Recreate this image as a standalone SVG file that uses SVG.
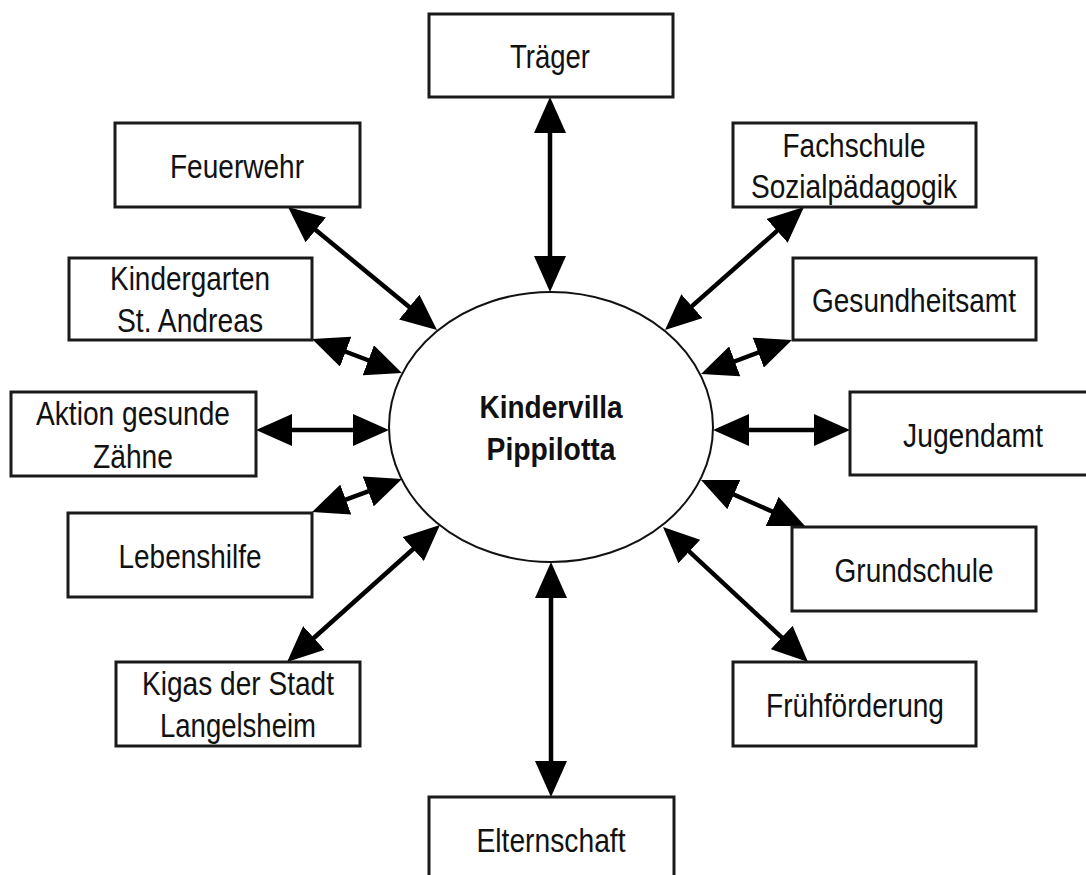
<svg xmlns="http://www.w3.org/2000/svg" width="1086" height="875" viewBox="0 0 1086 875">
<style>
.box{fill:#fff;stroke:#1a1a1a;stroke-width:3}
.lbl{font-family:"Liberation Sans",Arial,sans-serif;font-size:33px;fill:#111;text-anchor:middle}
.ctr{font-family:"Liberation Sans",Arial,sans-serif;font-size:32px;font-weight:bold;fill:#111;text-anchor:middle}
.con{stroke:#000;stroke-width:4.5;fill:none;marker-start:url(#ah);marker-end:url(#ah)}
</style>
<defs>
<marker id="ah" viewBox="0 0 36 32" refX="26" refY="16" markerWidth="36" markerHeight="32" markerUnits="userSpaceOnUse" orient="auto-start-reverse">
<path d="M0,0 L36,16 L0,32 z" fill="#000"/>
</marker>
</defs>
<rect width="1086" height="875" fill="#fff"/>
<g id="connectors">
<line class="con" x1="550" y1="107" x2="550" y2="282"/>
<line class="con" x1="551" y1="572" x2="551" y2="787"/>
<line class="con" x1="295.7" y1="213.4" x2="429.3" y2="323.6"/>
<line class="con" x1="321.4" y1="342.5" x2="392.6" y2="369.5"/>
<line class="con" x1="266" y1="430" x2="379" y2="430"/>
<line class="con" x1="321.4" y1="508.6" x2="392.6" y2="482.4"/>
<line class="con" x1="294.5" y1="655.3" x2="432.5" y2="531.7"/>
<line class="con" x1="796.5" y1="213.6" x2="672.5" y2="323.4"/>
<line class="con" x1="782.6" y1="343.5" x2="710.4" y2="370.5"/>
<line class="con" x1="723" y1="430" x2="840" y2="430"/>
<line class="con" x1="710.1" y1="484" x2="795.9" y2="522"/>
<line class="con" x1="670.3" y1="533.8" x2="800.7" y2="655.2"/>
</g>
<g id="center">
<ellipse cx="551" cy="427" rx="162" ry="135" fill="#fff" stroke="#111" stroke-width="2"/>
<text class="ctr" x="551" y="418" textLength="143" lengthAdjust="spacingAndGlyphs">Kindervilla</text>
<text class="ctr" x="551" y="460" textLength="129" lengthAdjust="spacingAndGlyphs">Pippilotta</text>
</g>
<g id="traeger"><rect class="box" x="429" y="14" width="244" height="83"/><text class="lbl" x="550" y="68" textLength="80" lengthAdjust="spacingAndGlyphs">Träger</text></g>
<g id="feuerwehr"><rect class="box" x="115" y="123" width="245" height="84"/><text class="lbl" x="237" y="178" textLength="134" lengthAdjust="spacingAndGlyphs">Feuerwehr</text></g>
<g id="kindergarten"><rect class="box" x="69" y="258" width="243" height="82"/><text class="lbl" x="190" y="290" textLength="160" lengthAdjust="spacingAndGlyphs">Kindergarten</text><text class="lbl" x="190" y="332" textLength="146" lengthAdjust="spacingAndGlyphs">St. Andreas</text></g>
<g id="aktion"><rect class="box" x="11" y="392" width="245" height="84"/><text class="lbl" x="133" y="425" textLength="194" lengthAdjust="spacingAndGlyphs">Aktion gesunde</text><text class="lbl" x="133" y="468" textLength="80" lengthAdjust="spacingAndGlyphs">Zähne</text></g>
<g id="lebenshilfe"><rect class="box" x="68" y="513" width="244" height="84"/><text class="lbl" x="190" y="568" textLength="143" lengthAdjust="spacingAndGlyphs">Lebenshilfe</text></g>
<g id="kigas"><rect class="box" x="116" y="662" width="244" height="84"/><text class="lbl" x="238" y="695" textLength="192" lengthAdjust="spacingAndGlyphs">Kigas der Stadt</text><text class="lbl" x="238" y="737" textLength="156" lengthAdjust="spacingAndGlyphs">Langelsheim</text></g>
<g id="fachschule"><rect class="box" x="733" y="123" width="243" height="84"/><text class="lbl" x="854" y="157" textLength="143" lengthAdjust="spacingAndGlyphs">Fachschule</text><text class="lbl" x="854" y="198" textLength="206" lengthAdjust="spacingAndGlyphs">Sozialpädagogik</text></g>
<g id="gesundheitsamt"><rect class="box" x="793" y="258" width="243" height="82"/><text class="lbl" x="914" y="312" textLength="204" lengthAdjust="spacingAndGlyphs">Gesundheitsamt</text></g>
<g id="jugendamt"><rect class="box" x="850" y="392" width="245" height="83"/><text class="lbl" x="973" y="447" textLength="140" lengthAdjust="spacingAndGlyphs">Jugendamt</text></g>
<g id="grundschule"><rect class="box" x="792" y="527" width="244" height="84"/><text class="lbl" x="914" y="582" textLength="159" lengthAdjust="spacingAndGlyphs">Grundschule</text></g>
<g id="fruehfoerderung"><rect class="box" x="733" y="662" width="243" height="84"/><text class="lbl" x="855" y="717" textLength="178" lengthAdjust="spacingAndGlyphs">Frühförderung</text></g>
<g id="elternschaft"><rect class="box" x="429" y="797" width="245" height="90"/><text class="lbl" x="551" y="852" textLength="149" lengthAdjust="spacingAndGlyphs">Elternschaft</text></g>
</svg>
